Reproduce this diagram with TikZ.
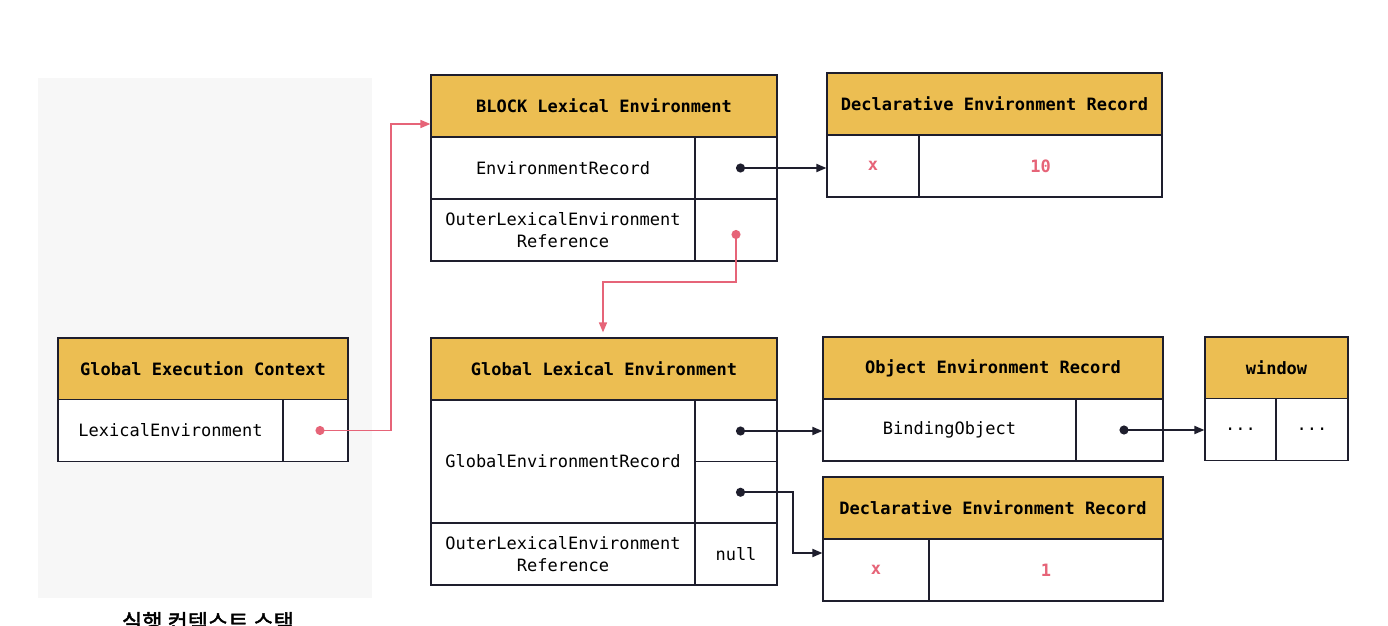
\documentclass[tikz,border=0pt]{standalone}
\usepackage{fontspec}
\setmonofont{DejaVu Sans Mono}
\newfontfamily\krfont{Noto Sans CJK KR}[AutoFakeBold=2]
\usetikzlibrary{arrows.meta,calc}
\definecolor{gold}{RGB}{236,190,82}
\definecolor{lc}{RGB}{30,30,45}
\definecolor{pinkred}{RGB}{230,100,120}
\definecolor{panel}{RGB}{247,247,247}
\tikzset{
  hdr/.style={draw=lc, line width=0.6pt, fill=gold, font=\ttfamily\bfseries\fontsize{8.5}{10}\selectfont, minimum height=31pt, inner sep=0pt},
  cell/.style={draw=lc, line width=0.6pt, fill=white, font=\ttfamily\fontsize{8.5}{11}\selectfont, minimum height=31pt, inner sep=0pt, align=center},
  val/.style={cell, text=pinkred, font=\ttfamily\bfseries\fontsize{8.5}{11}\selectfont},
  blkarrow/.style={lc, line width=0.9pt, {Circle[length=4.5pt]}-{Triangle[length=5pt,width=4pt]}},
  redarrow/.style={pinkred, line width=0.8pt, {Circle[length=4.5pt]}-{Triangle[length=5pt,width=4pt]}},
}
\begin{document}
\begin{tikzpicture}[x=0.5pt,y=-0.5pt]
\useasboundingbox (0,0) rectangle (1388,626);
\clip (0,0) rectangle (1388,626);
\fill[white] (0,0) rectangle (1388,626);
\fill[panel] (38,78) rectangle (372,598);
\node[font=\krfont\bfseries\fontsize{11}{13}\selectfont] (title) at (208,622) {실행 컨텍스트 스택};

% Global Execution Context
\node[hdr, minimum width=145pt] (gecH) at (203,369) {Global Execution Context};
\node[cell, minimum width=112.5pt] (gecL) at (170.5,430.5) {LexicalEnvironment};
\node[cell, minimum width=32.5pt] (gecR) at (315.5,430.5) {};

% BLOCK Lexical Environment
\node[hdr, minimum width=173pt] (blkH) at (604,106) {BLOCK Lexical Environment};
\node[cell, minimum width=132pt] (blkL1) at (563,168) {EnvironmentRecord};
\node[cell, minimum width=41pt] (blkR1) at (736,168) {};
\node[cell, minimum width=132pt] (blkL2) at (563,230) {OuterLexicalEnvironment\\Reference};
\node[cell, minimum width=41pt] (blkR2) at (736,230) {};

% Declarative Environment Record (top)
\node[hdr, minimum width=167.5pt] (decaH) at (994.5,104) {Declarative Environment Record};
\node[val, minimum width=46pt] (decaL) at (873,166) {x};
\node[val, minimum width=121.5pt] (decaR) at (1040.5,166) {10};

% Global Lexical Environment
\node[hdr, minimum width=173pt] (gleH) at (604,369) {Global Lexical Environment};
\node[cell, minimum width=132pt, minimum height=61.5pt] (gleL) at (563,461.5) {GlobalEnvironmentRecord};
\node[cell, minimum width=41pt, minimum height=31pt] (gleR1) at (736,431) {};
\node[cell, minimum width=41pt, minimum height=30.5pt] (gleR2) at (736,492.25) {};
\node[cell, minimum width=132pt] (gleL3) at (563,554) {OuterLexicalEnvironment\\Reference};
\node[cell, minimum width=41pt] (gleR3) at (736,554) {null};

% Object Environment Record
\node[hdr, minimum width=170pt] (oerH) at (993,368) {Object Environment Record};
\node[cell, minimum width=126.5pt] (oerL) at (949.5,430) {BindingObject};
\node[cell, minimum width=43.5pt] (oerR) at (1119.5,430) {};

% window
\node[hdr, minimum width=71.5pt] (winH) at (1276.5,368) {window};
\node[cell, minimum width=35.5pt] (winL) at (1240.5,429.5) {...};
\node[cell, minimum width=36pt] (winR) at (1312,429.5) {...};

% Declarative Environment Record (bottom)
\node[hdr, minimum width=170pt] (decbH) at (993,508) {Declarative Environment Record};
\node[val, minimum width=53pt] (decbL) at (876,570) {x};
\node[val, minimum width=117pt] (decbR) at (1046,570) {1};

% connectors
\coordinate (bendA) at (391,124);
\draw[redarrow] (gecR.center) -| (bendA) -- (bendA -| blkH.west);
\draw[blkarrow] (blkR1.center) -- (blkR1.center -| decaL.west);
\coordinate (bendB) at (603,282);
\draw[redarrow, shorten >=2.5pt] (blkR2.center) |- (bendB) -- (bendB |- gleH.north);
\draw[blkarrow] (gleR1.center) -- (gleR1.center -| oerL.west);
\draw[blkarrow] (oerR.center) -- (oerR.center -| winL.west);
\coordinate (bendC) at (793,553);
\draw[blkarrow] (gleR2.center) -| (bendC) -- (bendC -| decbL.west);
\end{tikzpicture}
\end{document}
